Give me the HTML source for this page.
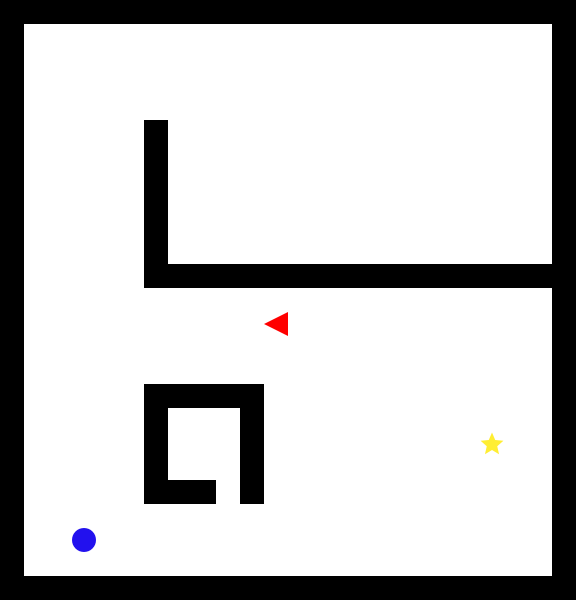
<!DOCTYPE html>
<html>
<head>
<meta charset="utf-8">
<style>
  html,body{margin:0;padding:0;background:#fff;}
  svg{display:block;}
</style>
</head>
<body>
<svg id="maze" width="576" height="600" viewBox="0 0 576 600" xmlns="http://www.w3.org/2000/svg">
  <rect x="0" y="0" width="576" height="600" fill="#ffffff"/>
</svg>
<script>
// wall segments in grid cells: [col, row, widthCells, heightCells]
const walls = [
  [0, 0, 24, 1],
  [0, 24, 24, 1],
  [0, 0, 1, 25],
  [23, 0, 1, 25],
  [6, 5, 1, 7],
  [6, 11, 17, 1],
  [6, 16, 5, 1],
  [6, 16, 1, 5],
  [10, 16, 1, 5],
  [6, 20, 3, 1]
];
const agent = [11, 13];   // red triangle cell
const goal = [20, 18];    // yellow star cell
const ball = [3, 22];     // blue circle cell
const cell = 24;
const NS = 'http://www.w3.org/2000/svg';
const svg = document.getElementById('maze');
function X(c){ return c * cell; }
function Y(r){ return r * cell; }

walls.forEach(function(w){
  const r = document.createElementNS(NS, 'rect');
  r.setAttribute('x', X(w[0]));
  r.setAttribute('y', Y(w[1]));
  r.setAttribute('width', w[2] * cell);
  r.setAttribute('height', w[3] * cell);
  r.setAttribute('fill', '#000');
  
  
  svg.appendChild(r);
});

(function(){
  const x0 = X(agent[0]), y0 = Y(agent[1]);
  const p = document.createElementNS(NS, 'polygon');
  p.setAttribute('points', x0 + ',' + (y0 + 12) + ' ' + (x0 + 24) + ',' + y0 + ' ' + (x0 + 24) + ',' + (y0 + 24));
  p.setAttribute('fill', '#ff0000');
  
  
  svg.appendChild(p);
})();

(function(){
  const cx = X(goal[0]) + 12, cy = Y(goal[1]) + 12.5;
  const R = 12, r = 5.5;
  let pts = [];
  for (let i = 0; i < 10; i++) {
    const a = -Math.PI / 2 + i * Math.PI / 5;
    const rad = i % 2 === 0 ? R : r;
    pts.push((cx + rad * Math.cos(a)).toFixed(2) + ',' + (cy + rad * Math.sin(a)).toFixed(2));
  }
  const s = document.createElementNS(NS, 'polygon');
  s.setAttribute('points', pts.join(' '));
  s.setAttribute('fill', '#ffee33');
  
  
  svg.appendChild(s);
})();

(function(){
  const c = document.createElementNS(NS, 'circle');
  c.setAttribute('cx', X(ball[0]) + 12);
  c.setAttribute('cy', Y(ball[1]) + 12);
  c.setAttribute('r', 12);
  c.setAttribute('fill', '#2211ee');
  
  
  svg.appendChild(c);
})();
</script>
</body>
</html>
